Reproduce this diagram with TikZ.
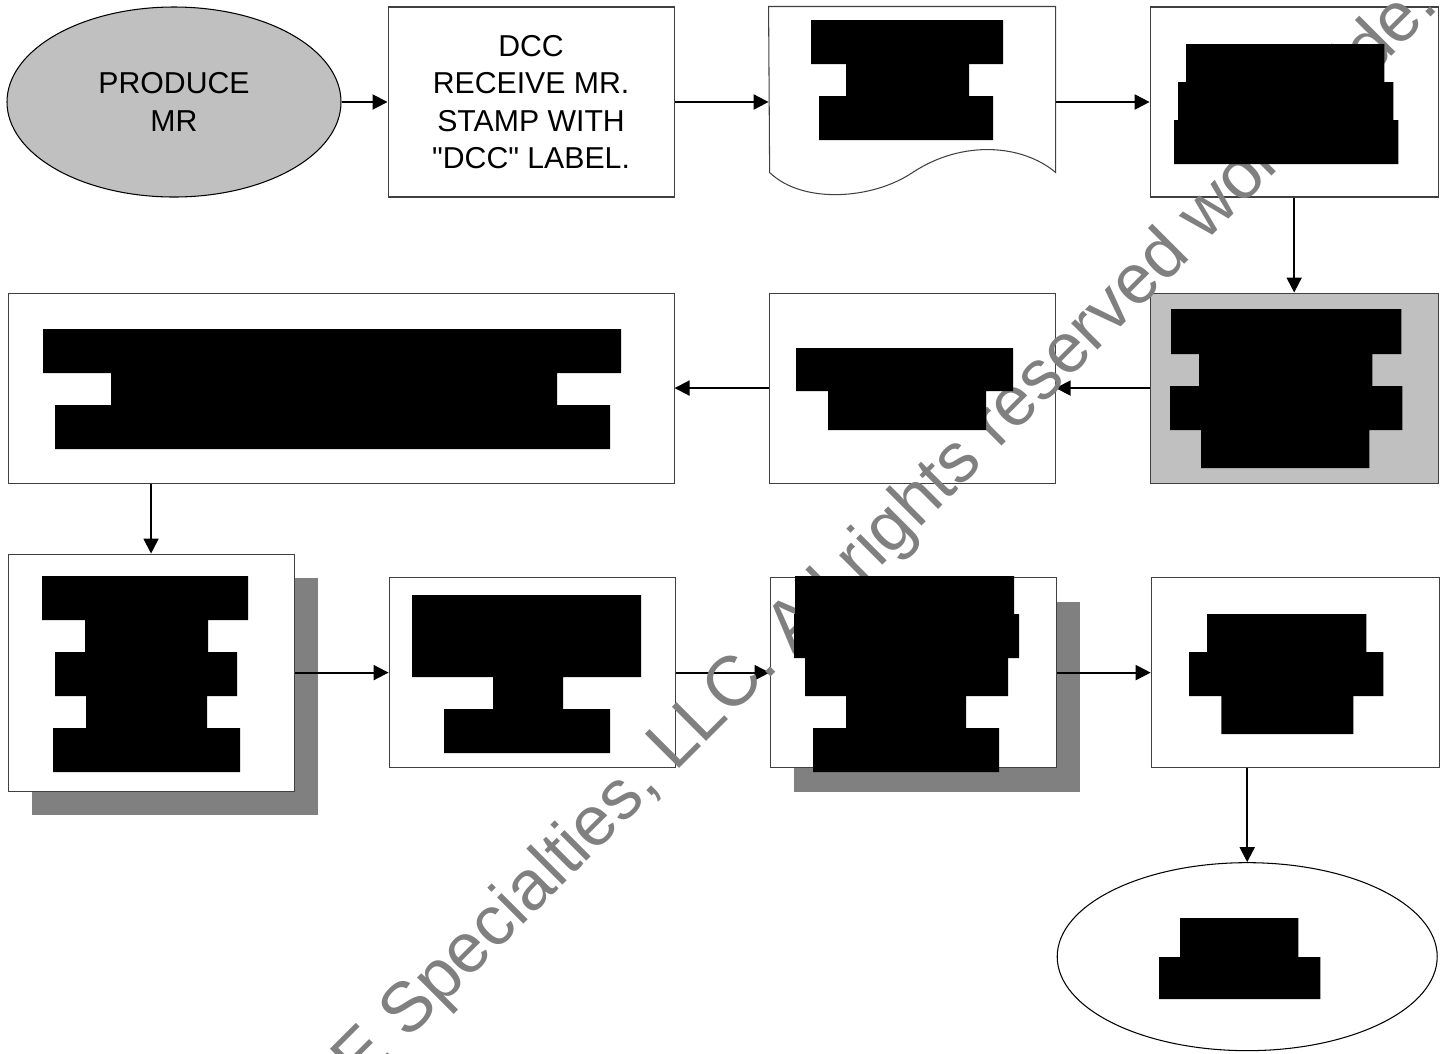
\documentclass[tikz,border=0pt]{standalone}
\usepackage{fontspec}
\setmainfont{Liberation Sans}
\usetikzlibrary{shapes, arrows.meta, positioning, shadows}

\definecolor{fillgray}{HTML}{C0C0C0}
\definecolor{shadegray}{HTML}{808080}
\definecolor{edgegray}{HTML}{404040}

\begin{document}
\begin{tikzpicture}[
    node distance=1.88cm,
    process/.style={rectangle, draw=edgegray, line width=0.6pt, fill=white, minimum width=5.72cm, minimum height=3.8cm, inner sep=0pt, align=center, font=\fontsize{17.2}{21.4}\selectfont},
    terminal/.style={ellipse, draw=black, line width=0.6pt, minimum width=6.68cm, minimum height=3.8cm, inner sep=0pt, align=center, font=\fontsize{17.2}{21.4}\selectfont},
    shadowed/.style={drop shadow={shadow xshift=0.48cm, shadow yshift=-0.48cm, fill=shadegray, opacity=1}},
    flow/.style={line width=1.1pt, -{Triangle[length=0.3cm, width=0.3cm]}},
    redact/.style={fill=black},
    watermark/.style={text=shadegray, font=\fontsize{40}{48}\selectfont, rotate=45, anchor=base west, inner sep=0pt}
]
    \useasboundingbox (0,0) rectangle (28.94,-21.06);

    % First row
    \node (produce) [terminal, fill=fillgray] at (3.48,-2.04) {PRODUCE\\MR};
    \node (receive) [process, right=0.92cm of produce] {DCC\\RECEIVE MR.\\STAMP WITH\\\textquotedbl DCC\textquotedbl{} LABEL.};
    \node (doc) [process, draw=none, fill=none, right=of receive] {};
    \node (review) [process, minimum width=5.76cm, right=of doc] {};

    % Document outline with wavy bottom
    \draw[edgegray, line width=0.6pt] (doc.north west) -- (doc.north east) -- ++(0,-3.32)
        .. controls +(-0.66,0.56) and +(1.0,0.66) .. ++(-2.86,0)
        .. controls +(-0.8,-0.54) and +(0.66,-0.64) .. ++(-2.86,0) -- cycle;

    % Second row
    \node (approve) [process, fill=fillgray, minimum width=5.76cm, below=1.9cm of review] {};
    \node (route) [process, left=of approve] {};
    \node (notify) [process, minimum width=13.32cm, left=of route] {};

    % Third row
    \node (sign) [process, shadowed, minimum height=4.74cm, below=1.4cm of notify.south west, anchor=north west] {};
    \node (update) [process, right=of sign] {};
    \node (file) [process, shadowed, right=of update] {};
    \node (issue) [process, minimum width=5.76cm, right=of file] {};
    \node (close) [terminal, minimum width=7.6cm, minimum height=3.76cm, below=of issue, xshift=-0.96cm] {};

    % Paths
    \draw[flow] (produce) -- (receive);
    \draw[flow] (receive) -- (doc);
    \draw[flow] (doc) -- (review);
    \draw[flow] (review) -- (approve);
    \draw[flow] (approve) -- (route);
    \draw[flow] (route) -- (notify);
    \draw[flow] (sign.north |- notify.south) -- (sign.north);
    \draw[flow] (sign) -- (update);
    \draw[flow] (update) -- (file);
    \draw[flow] (file) -- (issue);
    \draw[flow] (close.north |- issue.south) -- (close.north);

    % Watermark
    \node (mark) [watermark] at (7.20,-21.76) {E Specialties, LLC. All rights reserved worldwide.};

    % Blacked-out labels
    \begin{scope}[x=0.02cm, y=-0.02cm]
        \fill[redact] (811,20) rectangle (1003,64) (846,64) rectangle (969,96) (819,96) rectangle (993,140);
        \fill[redact] (1186,44) rectangle (1384,82) (1178,82) rectangle (1393,120) (1174,120) rectangle (1398,164);
        \fill[redact] (1171,309) rectangle (1401,354) (1199,354) rectangle (1372,386) (1170,386) rectangle (1402,430) (1201,430) rectangle (1369,468);
        \fill[redact] (796,348) rectangle (1013,391) (828,391) rectangle (986,430);
        \fill[redact] (43,329) rectangle (621,373) (111,373) rectangle (557,405) (55,405) rectangle (610,449);
        \fill[redact] (42,576) rectangle (248,620) (85,620) rectangle (208,652) (55,652) rectangle (237,696) (86,696) rectangle (207,728) (53,728) rectangle (240,772);
        \fill[redact] (412,595) rectangle (641,677) (493,677) rectangle (563,709) (444,709) rectangle (610,753);
        \fill[redact] (795,576) rectangle (1014,614) (794,614) rectangle (1019,658) (805,658) rectangle (1008,696) (846,696) rectangle (966,728) (813,728) rectangle (999,772);
        \fill[redact] (1207,614) rectangle (1366,652) (1189,652) rectangle (1383,696) (1221,696) rectangle (1353,734);
        \fill[redact] (1180,918) rectangle (1298,957) (1159,957) rectangle (1320,999);
    \end{scope}
\end{tikzpicture}
\end{document}
